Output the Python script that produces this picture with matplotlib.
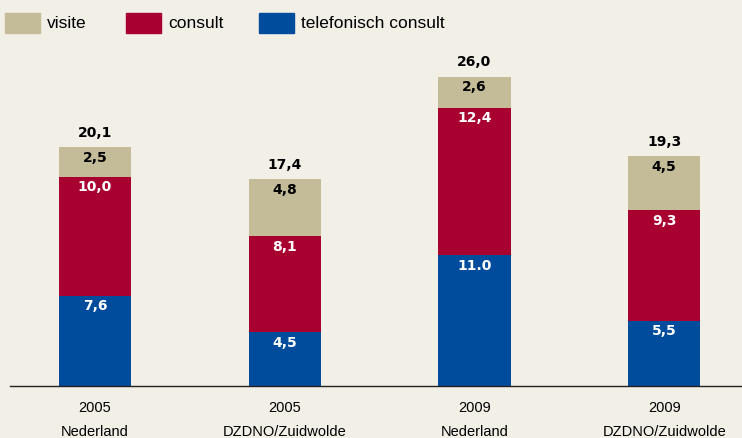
import numpy as np
import matplotlib.pyplot as plt
from matplotlib.patches import Rectangle

# Data
jaren = ['2005', '2005', '2009', '2009']
regio = ['Nederland', 'DZDNO/Zuidwolde', 'Nederland', 'DZDNO/Zuidwolde']
telefonisch = [7.6, 4.5, 11.0, 5.5]
consult = [10.0, 8.1, 12.4, 9.3]
visite = [2.5, 4.8, 2.6, 4.5]
totaal = [20.1, 17.4, 26.0, 19.3]
lbl_tel = ['7,6', '4,5', '11.0', '5,5']
lbl_con = ['10,0', '8,1', '12,4', '9,3']
lbl_vis = ['2,5', '4,8', '2,6', '4,5']
lbl_tot = ['20,1', '17,4', '26,0', '19,3']

bg = '#f2efe7'
c_vis = '#c4bc98'
c_con = '#a8002f'
c_tel = '#004c9c'
font = ['Liberation Sans Narrow', 'Liberation Sans', 'DejaVu Sans']

fig = plt.figure(figsize=(7.42, 4.39), dpi=100, facecolor=bg)
W, H = 742, 439
ax = fig.add_axes([10 / W, 52 / H, 732 / W, 347 / H])
ax.set_facecolor(bg)

x = np.arange(len(jaren))
w = 0.38
tel = np.array(telefonisch)
con = np.array(consult)
vis = np.array(visite)
ax.bar(x, tel, w, color=c_tel)
ax.bar(x, con, w, bottom=tel, color=c_con)
ax.bar(x, vis, w, bottom=tel + con, color=c_vis)

ax.set_xlim(-0.448, 3.41)
ax.set_ylim(0, 347 / 11.9)

lab = dict(ha='center', va='center', fontsize=10, fontweight='bold',
           family='DejaVu Sans', textcoords='offset points')
for i in range(len(x)):
    ax.annotate(lbl_tel[i], (x[i], tel[i]), xytext=(0, -7), color='white', **lab)
    ax.annotate(lbl_con[i], (x[i], tel[i] + con[i]), xytext=(0, -7), color='white', **lab)
    ax.annotate(lbl_vis[i], (x[i], tel[i] + con[i] + vis[i]), xytext=(0, -7), color='black', **lab)
    ax.annotate(lbl_tot[i], (x[i], totaal[i]), xytext=(0, 11), color='black', **lab)

for s in ['top', 'right', 'left']:
    ax.spines[s].set_visible(False)
ax.spines['bottom'].set_color('#222222')
ax.spines['bottom'].set_linewidth(1)
ax.set_yticks([])
ax.set_xticks(x)
ax.set_xticklabels([j + '\n' + r for j, r in zip(jaren, regio)], family=font,
                   fontsize=10.5, linespacing=1.95)
ax.tick_params(axis='x', length=0, pad=10)

# legend
items = [('visite', c_vis, 5, 47), ('consult', c_con, 126, 168), ('telefonisch consult', c_tel, 259, 301)]
for naam, kleur, px, tx in items:
    fig.add_artist(Rectangle((px / W, 1 - 34 / H), 35 / W, 20 / H, transform=fig.transFigure,
                             color=kleur))
    fig.text(tx / W, 1 - 23 / H, naam, family=font, fontsize=12.5, va='center', ha='left')

fig.savefig('out.png', dpi=100, facecolor=bg)
